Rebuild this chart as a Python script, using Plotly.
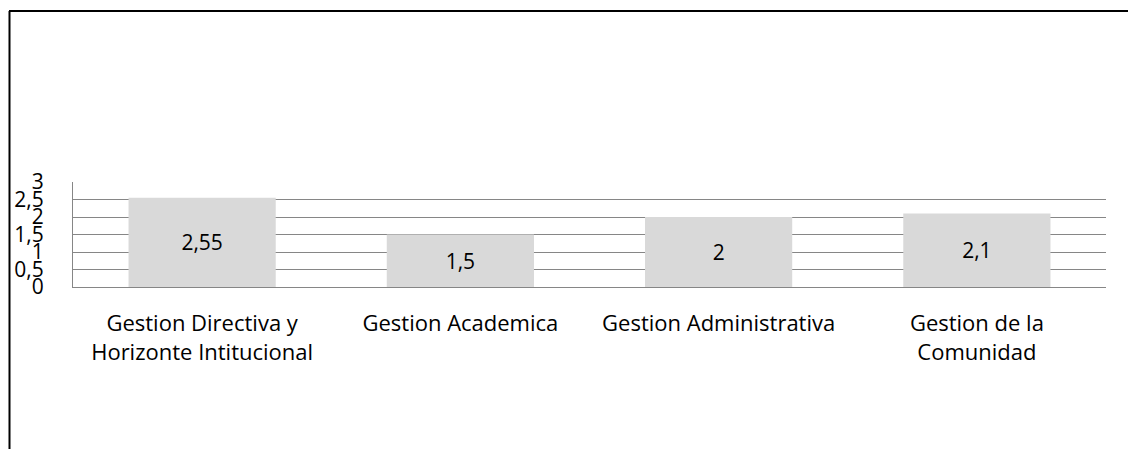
import plotly.graph_objects as go

categories = ["Gestion Directiva y<br>Horizonte Intitucional", "Gestion Academica",
              "Gestion Administrativa", "Gestion de la<br>Comunidad"]
values = [2.55, 1.5, 2, 2.1]
value_labels = ["2,55", "1,5", "2", "2,1"]
y_tickvals = [0, 0.5, 1, 1.5, 2, 2.5, 3]
y_ticktext = ["0", "0,5", "1", "1,5", "2", "2,5", "3"]

FONT = "Open Sans, Noto Sans, sans-serif"

fig = go.Figure(go.Bar(
    x=categories, y=values, text=value_labels,
    textposition="inside", insidetextanchor="middle",
    textfont=dict(family=FONT, size=21, color="black"),
    marker=dict(color="#d9d9d9", line=dict(width=0)),
    hoverinfo="skip",
))

# page body has an 8px margin, so the figure is sized to fit the window
W, H = 1128, 441
L, R, T, B = 65, 30, 174, 162
pw, ph = W - L - R, H - T - B

fig.update_layout(
    width=W, height=H,
    margin=dict(l=L, r=R, t=T, b=B, pad=0, autoexpand=False),
    paper_bgcolor="white", plot_bgcolor="white",
    bargap=0.43, showlegend=False,
    font=dict(family=FONT, size=21, color="black"),
    xaxis=dict(showgrid=False, showline=True, linecolor="#868686", linewidth=1,
               ticks="", tickfont=dict(family=FONT, size=22, color="black"),
               ticklabelstandoff=17, automargin=False),
    yaxis=dict(range=[0, 3], tickvals=y_tickvals, ticktext=y_ticktext,
               showgrid=True, gridcolor="#868686", gridwidth=1,
               showline=True, linecolor="#868686", linewidth=1,
               zeroline=False, ticks="", automargin=False,
               tickfont=dict(family=FONT, size=21, color="black"),
               ticklabelstandoff=24),
    shapes=[
        dict(type="line", xref="paper", yref="paper",
             x0=(1 - L) / pw, x1=(W + 5 - L) / pw,
             y0=(H - B - 3) / ph, y1=(H - B - 3) / ph,
             line=dict(color="black", width=2)),
        dict(type="line", xref="paper", yref="paper",
             x0=(1.5 - L) / pw, x1=(1.5 - L) / pw,
             y0=(H - B - 3) / ph, y1=(H - B - H - 10) / ph,
             line=dict(color="black", width=2)),
    ],
)

fig.write_html("out.html")
